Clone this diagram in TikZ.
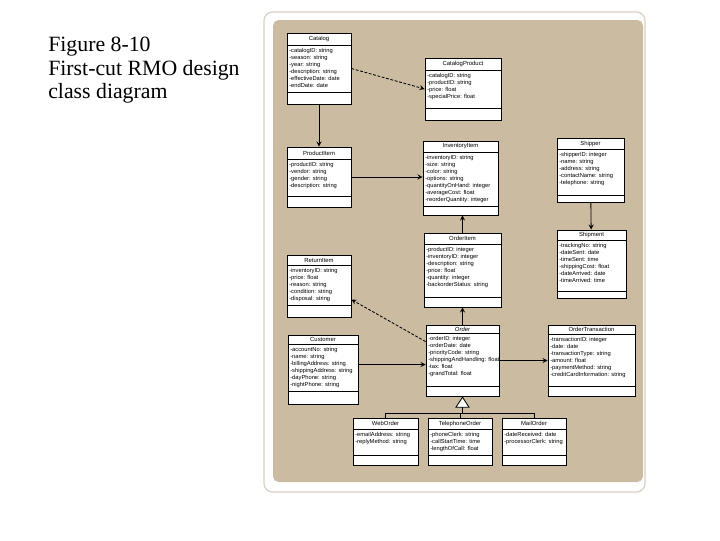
\documentclass[tikz,border=0pt]{standalone}
\usepackage{fontspec}
\usepackage{tikz}
\usetikzlibrary{arrows.meta,calc,fit}
\newfontfamily\umlfont{Liberation Sans}
\newfontfamily\capfont{Liberation Serif}
\definecolor{paneltan}{RGB}{202,187,161}
\definecolor{panelrim}{RGB}{214,206,194}

\tikzset{
  clsbox/.style={draw, fill=white, inner sep=0pt, line width=0.6pt},
  clstitle/.style={font=\umlfont\fontsize{4.2}{5}\selectfont, inner sep=0pt},
  clsattr/.style={font=\umlfont\fontsize{4.1}{5}\selectfont, align=left, inner sep=0pt, anchor=north west},
  nav/.style={->, line width=0.6pt},
  dep/.style={->, line width=0.6pt, dash pattern=on 2pt off 1.2pt},
  gen/.style={-{Triangle[length=0.28cm, width=0.36cm, fill=white]}, line width=0.6pt},
}

% class box: name, x1, y1, x2, y2, title line, attribute line, title, attributes
\newcommand{\umlclass}[9]{%
  \node[clsbox, fit={(#2,#3) (#4,#5)}] (#1) {};
  \draw[line width=0.6pt] (#2,#6) -- (#4,#6) (#2,#7) -- (#4,#7);
  \node[clstitle] at ({(#2+#4)/2},{(#3+#6)/2}) {#8};
  \node[clsattr] at ({#2+2},{#6+3}) {#9};
}

\begin{document}
\begin{tikzpicture}[x=0.025cm, y=-0.025cm, >=stealth]
  \useasboundingbox (0,0) rectangle (720,540);
  \fill[white] (0,0) rectangle (720,540);

  % caption
  \node[anchor=north west, align=left, inner sep=0pt,
        font=\capfont\fontsize{15.5}{16.7}\selectfont] (caption) at (48,37)
    {Figure 8-10\\First-cut RMO design\\class diagram};

  % panel
  \draw[panelrim, line width=0.8pt, rounded corners=6pt] (264,12) rectangle (645,492);
  \fill[paneltan, rounded corners=4pt] (273,20) rectangle (643,482);

  % classes
  \umlclass{catalog}{287}{33}{351}{104}{45}{92}{Catalog}
    {-catalogID: string\\-season: string\\-year: string\\-description: string\\-effectiveDate: date\\-endDate: date}
  \umlclass{catprod}{425}{58}{501}{120}{70}{108}{CatalogProduct}
    {-catalogID: string\\-productID: string\\-price: float\\-specialPrice: float}
  \umlclass{prodit}{287}{147}{351}{207}{159}{196}{ProductItem}
    {-productID: string\\-vendor: string\\-gender: string\\-description: string}
  \umlclass{invit}{423}{141}{498}{215}{152}{206}{InventoryItem}
    {-inventoryID: string\\-size: string\\-color: string\\-options: string\\-quantityOnHand: integer\\-averageCost: float\\-reorderQuantity: integer}
  \umlclass{shipper}{557}{138}{624}{202}{149}{195}{Shipper}
    {-shipperID: integer\\-name: string\\-address: string\\-contactName: string\\-telephone: string}
  \umlclass{returnit}{287}{255}{351}{317}{265}{305}{ReturnItem}
    {-inventoryID: string\\-price: float\\-reason: string\\-condition: string\\-disposal: string}
  \umlclass{ordit}{424}{233}{501}{307}{244}{297}{OrderItem}
    {-productID: integer\\-inventoryID: integer\\-description: string\\-price: float\\-quantity: integer\\-backorderStatus: string}
  \umlclass{shipment}{557}{230}{626}{298}{240}{291}{Shipment}
    {-trackingNo: string\\-dateSent: date\\-timeSent: time\\-shippingCost: float\\-dateArrived: date\\-timeArrived: time}
  \umlclass{customer}{288}{335}{358}{404}{344}{391}{Customer}
    {-accountNo: string\\-name: string\\-billingAddress: string\\-shippingAddress: string\\-dayPhone: string\\-nightPhone: string}
  \umlclass{order}{426}{325}{499}{396}{333}{386}{\itshape Order}
    {-orderID: integer\\-orderDate: date\\-priorityCode: string\\-shippingAndHandling: float\\-tax: float\\-grandTotal: float}
  \umlclass{ordtrans}{548}{325}{635}{396}{334}{386}{OrderTransaction}
    {-transactionID: integer\\-date: date\\-transactionType: string\\-amount: float\\-paymentMethod: string\\-creditCardInformation: string}
  \umlclass{weborder}{353}{418}{418}{465}{429}{455}{WebOrder}
    {-emailAddress: string\\-replyMethod: string}
  \umlclass{telorder}{428}{418}{492}{465}{429}{455}{TelephoneOrder}
    {-phoneClerk: string\\-callStartTime: time\\-lengthOfCall: float}
  \umlclass{mailorder}{502}{418}{566}{465}{429}{455}{MailOrder}
    {-dateReceived: date\\-processorClerk: string}

  % associations
  \draw[dep] (catalog.east) -- (catprod.west);
  \draw[nav] (catalog) -- (prodit);
  \draw[nav] (prodit.east) -- (prodit.east -| invit.west);
  \draw[nav] (ordit.north) -- (ordit.north |- invit.south);
  \draw[nav] (shipper) -- (shipment);
  \draw[nav] (order) -- (ordit);
  \draw[dep] ($(order.north west)+(0,17)$) -- ($(returnit.north east)+(0,45)$);
  \coordinate (custout) at ($(customer.east)+(0,-5)$);
  \draw[nav] (custout) -- (custout -| order.west);
  \draw[nav] (order.east) -- (order.east -| ordtrans.west);

  % generalization
  \coordinate (genbar) at ($(order.south)+(0,17)$);
  \draw[line width=0.6pt] (weborder.north) |- (genbar) -| (mailorder.north);
  \draw[line width=0.6pt] (telorder.north) -- (telorder.north |- genbar);
  \draw[gen] (genbar) -- (order.south);
\end{tikzpicture}
\end{document}
